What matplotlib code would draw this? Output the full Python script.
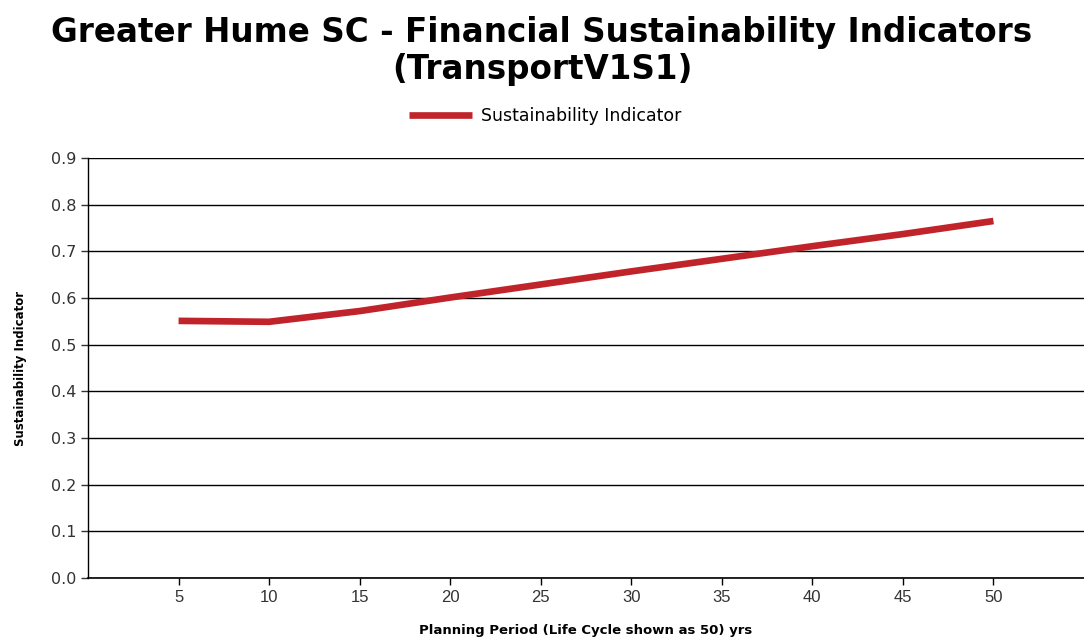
import matplotlib.pyplot as plt

# planning period (years) and sustainability indicator values
years = [5, 10, 15, 20, 25, 30, 35, 40, 45, 50]
indicator = [0.551, 0.549, 0.572, 0.601, 0.629, 0.657, 0.684, 0.711, 0.737, 0.765]

x_ticks = [5, 10, 15, 20, 25, 30, 35, 40, 45, 50]
y_ticks = [0.0, 0.1, 0.2, 0.3, 0.4, 0.5, 0.6, 0.7, 0.8, 0.9]

title = "Greater Hume SC - Financial Sustainability Indicators\n(TransportV1S1)"
series_name = "Sustainability Indicator"
x_label = "Planning Period (Life Cycle shown as 50) yrs"
y_label = "Sustainability Indicator"

fig = plt.figure(figsize=(10.84, 6.41), dpi=100)
ax = fig.add_axes([0.0812, 0.0983, 0.9188, 0.6552])

line, = ax.plot(years, indicator, color="#C1232B", linewidth=4.8,
                solid_capstyle="butt", label=series_name, zorder=3)

ax.set_xlim(0, 55)
ax.set_ylim(0, 0.9)
ax.set_xticks(x_ticks)
ax.set_yticks(y_ticks)
ax.set_yticklabels([f"{v:.1f}" for v in y_ticks])

# horizontal grid lines in black
ax.yaxis.grid(True, color="black", linewidth=1.0)
ax.set_axisbelow(True)
for side in ["top", "right"]:
    ax.spines[side].set_visible(False)
ax.spines["left"].set_linewidth(1.0)
ax.spines["bottom"].set_linewidth(1.2)

ax.tick_params(axis="y", length=5, width=1, labelsize=11.5, colors="#333333",
               labelcolor="#333333")
ax.tick_params(axis="x", length=5, width=1, labelsize=11, labelcolor="#333333")
for lab in ax.get_xticklabels():
    lab.set_family("Liberation Sans")
    lab.set_fontsize(12)

ax.set_xlabel(x_label, fontsize=9.5, fontweight="bold", labelpad=14)
ax.set_ylabel(y_label, fontsize=8.5, fontweight="bold", labelpad=17)

fig.suptitle(title, fontsize=23.5, fontweight="bold", y=0.975, linespacing=1.15)

fig.legend(handles=[line], loc="center", bbox_to_anchor=(0.503, 0.819),
           frameon=False, fontsize=12.5, handlelength=3.6, handletextpad=0.5)

fig.savefig("out.png", dpi=100)
